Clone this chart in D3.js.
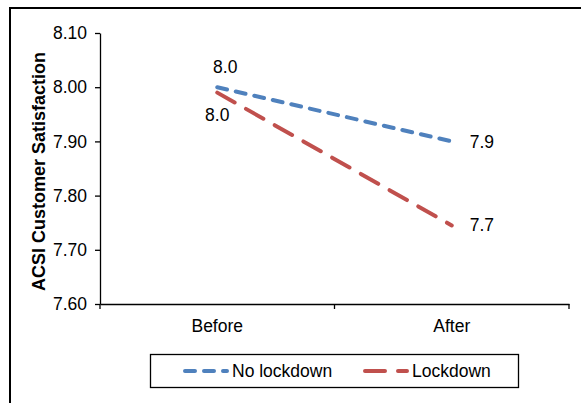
<!DOCTYPE html>
<html>
<head>
<meta charset="utf-8">
<script src="https://cdn.jsdelivr.net/npm/d3@7"></script>
<style>
  body { margin: 0; background: #fff; }
  svg text { font-family: "Liberation Sans", Arial, sans-serif; fill: #000; }
</style>
</head>
<body>
<div id="chart"></div>
<script>
// Chart data
const periods = ["Before", "After"];
const noLockdown = [8.00, 7.90];
const lockdown = [7.99, 7.745];
const yTicks = [7.6, 7.7, 7.8, 7.9, 8.0, 8.1];

const width = 581,
    height = 403;

const margin = { top: 33, right: 12, bottom: 99, left: 100 };
const fontSize = "17.5px";

const svg = d3.select("#chart")
    .append("svg")
    .attr("width", width)
    .attr("height", height);

// outer frame (only left and top edges visible)
svg.append("path")
    .attr("d", "M10,403 L10,8 L581,8")
    .attr("fill", "none")
    .attr("stroke", "#000")
    .attr("stroke-width", 2);

const x = d3.scaleBand()
    .domain(periods)
    .range([margin.left, 569]);

const y = d3.scaleLinear()
    .domain([7.6, 8.1])
    .range([304, margin.top]);

// y axis
const yAxis = svg.append("g")
    .attr("transform", `translate(${margin.left},0)`)
    .call(d3.axisLeft(y).tickValues(yTicks).tickFormat(d3.format(".2f")).tickSize(5).tickSizeOuter(0));
yAxis.select(".domain").attr("stroke", "#000").attr("stroke-width", 1.3);
yAxis.selectAll(".tick line").attr("stroke", "#000").attr("stroke-width", 1.3);
yAxis.selectAll(".tick text")
    .attr("x", -13)
    .style("font-size", fontSize);

// x axis
const xAxis = svg.append("g")
    .attr("transform", `translate(0,${y(7.6)})`)
    .call(d3.axisBottom(x).tickSize(0).tickSizeOuter(0));
xAxis.select(".domain").attr("stroke", "#000").attr("stroke-width", 1.3);
xAxis.selectAll(".tick text")
    .attr("y", 28)
    .attr("dy", 0)
    .style("font-size", fontSize);
// tick marks between categories
xAxis.selectAll(".sep")
    .data([x.range()[0], x(periods[1]), x.range()[1]])
    .enter().append("line")
    .attr("x1", d => d).attr("x2", d => d)
    .attr("y1", 0).attr("y2", 5)
    .attr("stroke", "#000")
    .attr("stroke-width", 1.3);

// y axis title
svg.append("text")
    .attr("transform", `translate(45,${(y(7.6) + y(8.1)) / 2 + 3}) rotate(-90)`)
    .attr("text-anchor", "middle")
    .style("font-size", "18px")
    .style("font-weight", "bold")
    .text("ACSI Customer Satisfaction");

const cx = d => x(d) + x.bandwidth() / 2;

const line = d3.line()
    .x((d, i) => cx(periods[i]))
    .y(d => y(d));

const series = [
    { name: "No lockdown", values: noLockdown, color: "#4F81BD", dash: "10,9" },
    { name: "Lockdown", values: lockdown, color: "#C0504D", dash: "20,13" }
];

series.forEach(s => {
    svg.append("path")
        .datum(s.values)
        .attr("d", line)
        .attr("fill", "none")
        .attr("stroke", s.color)
        .attr("stroke-width", 4)
        .attr("stroke-linecap", "round")
        .attr("stroke-dasharray", s.dash);
});

// data labels
const fmt = d3.format(".1f");
svg.append("text")
    .attr("x", cx(periods[0]) + 8).attr("y", y(noLockdown[0]) - 14)
    .attr("text-anchor", "middle")
    .style("font-size", fontSize)
    .text(fmt(noLockdown[0]));
svg.append("text")
    .attr("x", cx(periods[0])).attr("y", y(lockdown[0]) + 28)
    .attr("text-anchor", "middle")
    .style("font-size", fontSize)
    .text(fmt(lockdown[0]));
svg.append("text")
    .attr("x", cx(periods[1]) + 18).attr("y", y(noLockdown[1]) + 7)
    .style("font-size", fontSize)
    .text(fmt(noLockdown[1]));
svg.append("text")
    .attr("x", cx(periods[1]) + 18).attr("y", y(lockdown[1]) + 6)
    .style("font-size", fontSize)
    .text(fmt(lockdown[1]));

// legend
const legend = svg.append("g");
legend.append("rect")
    .attr("x", 150.5).attr("y", 354.5)
    .attr("width", 368).attr("height", 33)
    .attr("fill", "#fff")
    .attr("stroke", "#000")
    .attr("stroke-width", 1.3);

const legendX = [185, 365];
series.forEach((s, i) => {
    legend.append("line")
        .attr("x1", legendX[i]).attr("x2", legendX[i] + 42)
        .attr("y1", 371).attr("y2", 371)
        .attr("stroke", s.color)
        .attr("stroke-width", 4)
        .attr("stroke-linecap", "round")
        .attr("stroke-dasharray", s.dash);
    legend.append("text")
        .attr("x", legendX[i] + 47).attr("y", 377)
        .style("font-size", fontSize)
        .text(s.name);
});
</script>
</body>
</html>
